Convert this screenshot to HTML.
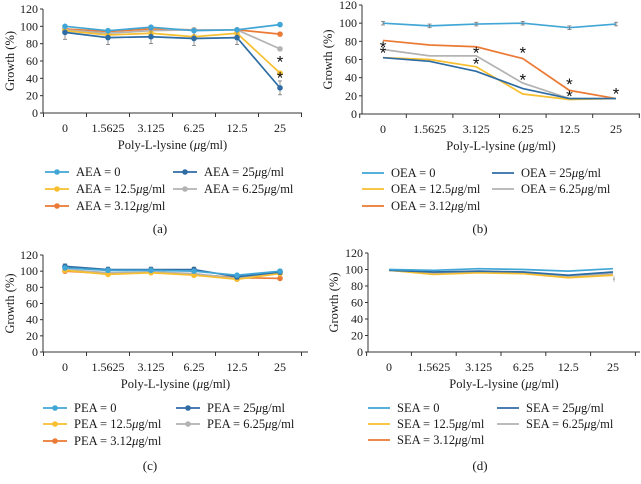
<!DOCTYPE html>
<html><head><meta charset="utf-8"><style>
html,body{margin:0;padding:0;background:#fff;}
svg{display:block;font-family:"Liberation Serif",serif;}
</style></head><body>
<svg id="fig" width="641" height="484" viewBox="0 0 641 484" xmlns="http://www.w3.org/2000/svg"></svg>
<script>
const categories = ["0","1.5625","3.125","6.25","12.5","25"];
const yTicks = [0,20,40,60,80,100,120];
const seriesKeys = ["0","25","12.5","6.25","3.12"];
const colors = {"0":"#41a6d6","25":"#2e6ca4","12.5":"#f7bf2f","6.25":"#b3b3b3","3.12":"#ea7a35"};
// Panel (a) AEA
const aeaZero = [100,95,99,95,96,102];
const aea25 = [93,87,88,86,87,29];
const aea12 = [95,90,92,88,92,46];
const aea6 = [96,92,95,96,96,74];
const aea3 = [97,94,97,96,96,91];
const aeaStars = [[5,62],[5,43]];
// Panel (b) OEA
const oeaZero = [100,97,99,100,95,99];
const oea25 = [62,58,47,28,17,17];
const oea12 = [62,60,52,22,16,17];
const oea6 = [71,64,64,34,17,17];
const oea3 = [81,76,74,61,26,17];
const oeaStars = [[0,76],[0,70],[2,70],[2,58],[3,70],[3,40],[4,35],[4,22],[5,25]];
// Panel (c) PEA
const peaZero = [104,101,101,100,95,100];
const pea25 = [106,102,102,102,93,99];
const pea12 = [101,96,98,95,90,97];
const pea6 = [102,98,99,97,91,98];
const pea3 = [100,97,99,96,92,91];
// Panel (d) SEA
const seaZero = [100,99,101,100,98,101];
const sea25 = [99,97,98,97,93,97];
const sea12 = [99,94,96,95,90,93];
const sea6 = [99,95,97,96,92,95];
const sea3 = [99,96,97,96,92,95];

const NS="http://www.w3.org/2000/svg";
const svg=document.getElementById('fig');
function el(tag,attrs,parent,text){const e=document.createElementNS(NS,tag);for(const k in attrs)e.setAttribute(k,attrs[k]);if(text!==undefined)e.textContent=text;(parent||svg).appendChild(e);return e;}

const panels=[
 {id:'a',pre:'AEA',ax:43,right:302,y0:113,yt:9,c0:65,dx:43,markers:true,ytx:9,series:{"0":aeaZero,"25":aea25,"12.5":aea12,"6.25":aea6,"3.12":aea3},stars:aeaStars,err:{"25":8},
  leg:{rows:[172,189,206],c1:45,c2:173,lw:24},lab:[160,229]},
 {id:'b',pre:'OEA',ax:362,right:640,y0:114,yt:5,c0:383,dx:46.6,markers:false,ytx:327,series:{"0":oeaZero,"25":oea25,"12.5":oea12,"6.25":oea6,"3.12":oea3},stars:oeaStars,err:{"0":2},
  leg:{rows:[173,189,206],c1:362,c2:492,lw:22},lab:[480,229]},
 {id:'c',pre:'PEA',ax:43,right:308,y0:352,yt:255,c0:65,dx:43,markers:true,ytx:9,series:{"0":peaZero,"25":pea25,"12.5":pea12,"6.25":pea6,"3.12":pea3},stars:[],err:{"25":3},
  leg:{rows:[408,424,441],c1:43,c2:176,lw:24},lab:[150,466]},
 {id:'d',pre:'SEA',ax:368,right:640,y0:352,yt:253,c0:389,dx:44.8,markers:false,ytx:333,series:{"0":seaZero,"25":sea25,"12.5":sea12,"6.25":sea6,"3.12":sea3},stars:[],err:{},
  leg:{rows:[408,424,440],c1:368,c2:497,lw:22},lab:[480,466]}
];

panels.forEach(p=>{
  const g=el('g',{});
  
  
  const y=v=>p.y0-(v/120)*(p.y0-p.yt);
  const x=i=>p.c0+i*p.dx;
  const ya=el('line',{x1:p.ax,y1:p.yt,x2:p.ax,y2:p.y0,stroke:'#333','stroke-width':1},g);
  
  
  const xa=el('line',{x1:p.ax,y1:p.y0,x2:p.right,y2:p.y0,stroke:'#333','stroke-width':1},g);
  
  
  yTicks.forEach(t=>{
    el('line',{x1:p.ax-3,y1:y(t),x2:p.ax,y2:y(t),stroke:'#333'},g);
    const tl=el('text',{x:p.ax-5,y:y(t)+4,'text-anchor':'end','font-size':12,fill:'#1a1a1a'},g,String(t));
    
    
  });
  for(let i=0;i<=categories.length;i++){
    const bx=p.c0-p.dx/2+i*p.dx;
    el('line',{x1:bx,y1:p.y0,x2:bx,y2:p.y0+4,stroke:'#333'},g);
  }
  categories.forEach((c,i)=>{
    const tl=el('text',{x:x(i),y:p.y0+19,'text-anchor':'middle','font-size':12,fill:'#1a1a1a'},g,c);
    
    
  });
  const xt=el('text',{x:(p.ax+p.right)/2,y:p.y0+36,'text-anchor':'middle','font-size':12.5,fill:'#1a1a1a'},g);
  
  
  xt.innerHTML='Poly-L-lysine (<tspan font-style="italic">μ</tspan>g/ml)';
  const ym=(p.y0+p.yt)/2;
  const yt=el('text',{x:p.ytx+5,y:ym,'text-anchor':'middle','font-size':12.5,fill:'#1a1a1a',transform:`rotate(-90 ${p.ytx+5} ${ym})`},g,'Growth (%)');
  
  
  seriesKeys.slice().reverse().forEach(k=>{
    const vals=p.series[k];
    const pts=vals.map((v,i)=>x(i)+','+y(v)).join(' ');
    const pl=el('polyline',{points:pts,fill:'none',stroke:colors[k],'stroke-width':1.7},g);
    
    
    if(p.err[k]){
      vals.forEach((v,i)=>{
        el('line',{x1:x(i),y1:y(v+p.err[k]),x2:x(i),y2:y(v-p.err[k]),stroke:'#777','stroke-width':0.8},g);
        el('line',{x1:x(i)-2,y1:y(v-p.err[k]),x2:x(i)+2,y2:y(v-p.err[k]),stroke:'#777','stroke-width':0.8},g);
        el('line',{x1:x(i)-2,y1:y(v+p.err[k]),x2:x(i)+2,y2:y(v+p.err[k]),stroke:'#777','stroke-width':0.8},g);
      });
    }
    if(p.markers){
      vals.forEach((v,i)=>{
        const c=el('circle',{cx:x(i),cy:y(v),r:2.8,fill:colors[k]},g);
        
        
      });
    }
  });
  p.stars.forEach(s=>{
    const st=el('text',{x:x(s[0]),y:y(s[1])+8,'text-anchor':'middle','font-size':17,'font-family':'Liberation Sans, sans-serif',fill:'#111'},g,'*');
    
    
  });
  const labels={"0":p.pre+' = 0',"12.5":p.pre+' = 12.5',"3.12":p.pre+' = 3.12',"25":p.pre+' = 25',"6.25":p.pre+' = 6.25'};
  const pos=[["0",p.leg.c1,0],["12.5",p.leg.c1,1],["3.12",p.leg.c1,2],["25",p.leg.c2,0],["6.25",p.leg.c2,1]];
  pos.forEach(([k,lx,r])=>{
    const ly=p.leg.rows[r];
    const lg=el('g',{},g);
    
    
    el('line',{x1:lx,y1:ly,x2:lx+p.leg.lw,y2:ly,stroke:colors[k],'stroke-width':1.8},lg);
    if(p.markers) el('circle',{cx:lx+p.leg.lw/2,cy:ly,r:2.8,fill:colors[k]},lg);
    const t=el('text',{x:lx+p.leg.lw+7,y:ly+4,'font-size':12.5,fill:'#1a1a1a'},lg);
    t.innerHTML = k==="0" ? labels[k] : labels[k]+'<tspan font-style="italic">μ</tspan>g/ml';
  });
  const lab=el('text',{x:p.lab[0],y:p.lab[1]+4,'text-anchor':'middle','font-size':13,fill:'#1a1a1a'},g,'('+p.id+')');
  
  
});
const dm=el('text',{x:614,y:282,'font-size':8,fill:'#555','text-anchor':'middle'},svg,'ǂ');


</script>
</body></html>
